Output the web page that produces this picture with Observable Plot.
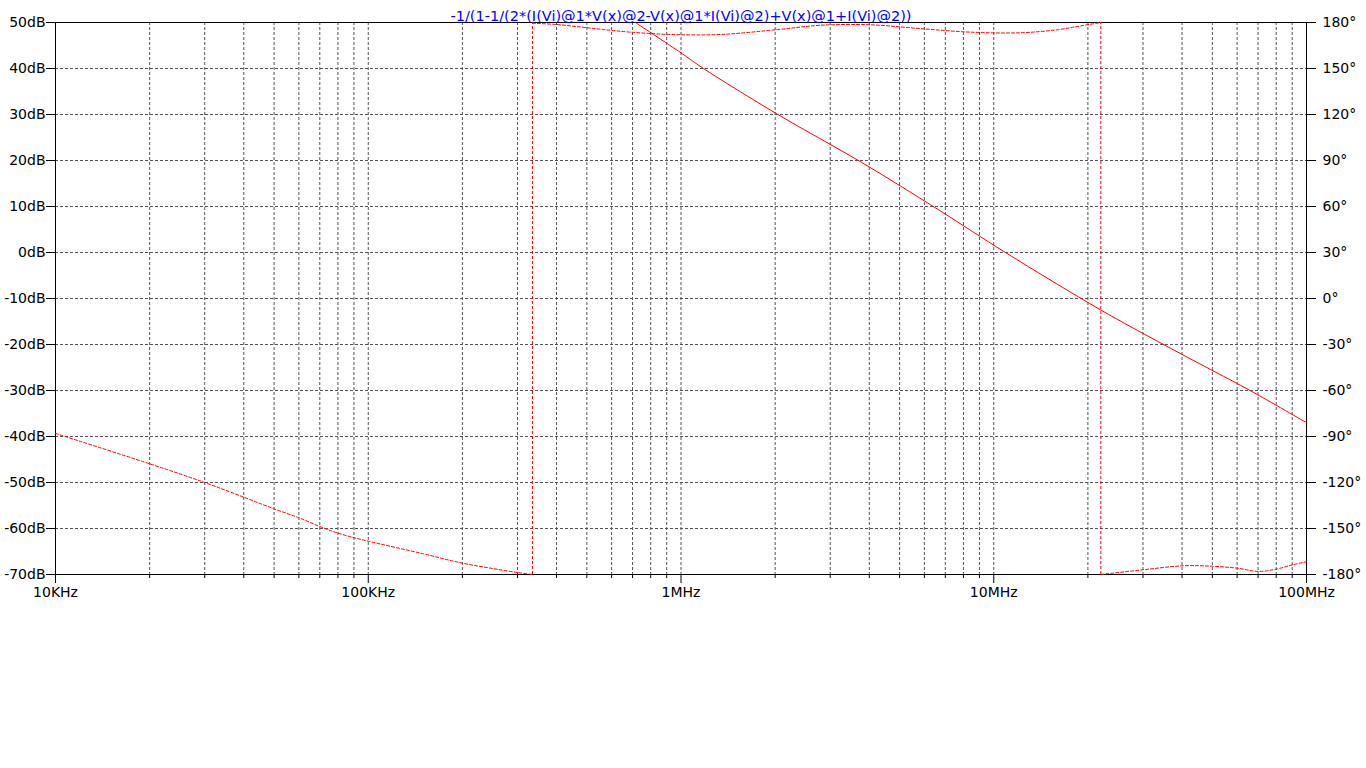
<!DOCTYPE html>
<html>
<head>
<meta charset="utf-8">
<script src="https://cdn.jsdelivr.net/npm/d3@7"></script>
<script src="https://cdn.jsdelivr.net/npm/@observablehq/plot@0.6"></script>
<style>
  html, body { margin: 0; padding: 0; background: #ffffff; }
  #chart svg { display: block; }
</style>
</head>
<body>
<div id="chart"></div>
<script>
// ---- Data ----
const titleText = "-1/(1-1/(2*(I(Vi)@1*V(x)@2-V(x)@1*I(Vi)@2)+V(x)@1+I(Vi)@2))";

// x axis (frequency, Hz)
const majorFreqs = [1e4, 1e5, 1e6, 1e7, 1e8];
const majorLabels = ["10KHz", "100KHz", "1MHz", "10MHz", "100MHz"];
const minorFreqs = [
  2e4, 3e4, 4e4, 5e4, 6e4, 7e4, 8e4, 9e4,
  2e5, 3e5, 4e5, 5e5, 6e5, 7e5, 8e5, 9e5,
  2e6, 3e6, 4e6, 5e6, 6e6, 7e6, 8e6, 9e6,
  2e7, 3e7, 4e7, 5e7, 6e7, 7e7, 8e7, 9e7
];

// left axis (dB) and right axis (degrees) share positions
const dbTicks = [-70, -60, -50, -40, -30, -20, -10, 0, 10, 20, 30, 40, 50];
const dbLabels = ["-70dB", "-60dB", "-50dB", "-40dB", "-30dB", "-20dB", "-10dB", "0dB", "10dB", "20dB", "30dB", "40dB", "50dB"];
const degLabels = ["-180°", "-150°", "-120°", "-90°", "-60°", "-30°", "0°", "30°", "60°", "90°", "120°", "150°", "180°"];

// magnitude (solid)
const magFreq = [7.15e5, 1e6, 1.18e6, 2.04e6, 3.8e6, 6.76e6, 1.09e7, 2.2e7, 3.34e7, 4.5e7, 6.6e7, 1e8];
const magDb   = [50, 43.4, 40, 30, 19.5, 9, 0, -12.5, -19.3, -24, -30, -37];

// phase (dashed), degrees, three wrapped segments
const ph1Freq = [1e4, 2e4, 3e4, 4e4, 5e4, 6e4, 7e4, 8e4, 9e4, 1e5, 1.5e5, 2e5, 2.5e5, 3e5, 3.35e5];
const ph1Deg  = [-88, -107.8, -120, -129.6, -137.2, -143, -148.7, -153, -156, -158.3, -166.5, -172.6, -176.1, -178.7, -180];
const ph2Freq = [3.35e5, 4e5, 4.8e5, 5.6e5, 6.9e5, 9.25e5, 1.34e6, 2.04e6, 2.79e6, 4.03e6, 5.83e6, 8.44e6, 1.22e7, 1.6e7, 1.9e7, 2.2e7];
const ph2Deg  = [179.5, 178.7, 177, 175.5, 173.7, 172.2, 172.2, 175.4, 178.2, 178.5, 176, 173.7, 173.3, 175.3, 177.8, 180];
const ph3Freq = [2.2e7, 3.01e7, 4.05e7, 5.01e7, 6.02e7, 7.03e7, 8.08e7, 9.02e7, 1e8];
const ph3Deg  = [-180, -176.9, -174.3, -174.6, -175.9, -178, -176.3, -173.7, -171.7];
const wrapFreqs = [3.35e5, 2.2e7];

// ---- Build tables ----
const magData = magFreq.map((f, i) => ({f, v: magDb[i]}));
const phaseData = [
  ...ph1Freq.map((f, i) => ({f, deg: ph1Deg[i], seg: 1})),
  ...ph2Freq.map((f, i) => ({f, deg: ph2Deg[i], seg: 2})),
  ...ph3Freq.map((f, i) => ({f, deg: ph3Deg[i], seg: 3}))
];
const degToDb = d => d / 3 - 10; // maps -180..180° onto -70..50 dB frame

const xLabelMap = new Map(majorFreqs.map((f, i) => [f, majorLabels[i]]));
const dbLabelMap = new Map(dbTicks.map((d, i) => [d, dbLabels[i]]));
const degLabelMap = new Map(dbTicks.map((d, i) => [d, degLabels[i]]));

const gridStyle = {stroke: "#55505a", strokeDasharray: "3,2", strokeWidth: 1, strokeOpacity: 1};
const red = "#ff0000";

const chart = Plot.plot({
  width: 1366,
  height: 768,
  marginTop: 22,
  marginLeft: 55,
  marginRight: 60,
  marginBottom: 194,
  x: {type: "log", domain: [1e4, 1e8], label: null},
  y: {domain: [-70, 50], label: null},
  style: {fontFamily: "DejaVu Sans", fontSize: "14px", color: "#000", background: "#fff"},
  marks: [
    Plot.ruleX(minorFreqs.concat([1e5, 1e6, 1e7]), gridStyle),
    Plot.ruleY(dbTicks.slice(1, -1), gridStyle),
    Plot.axisX(majorFreqs, {anchor: "bottom", tickSize: 9, tickPadding: 4, label: null, tickFormat: d => xLabelMap.get(d), fontSize: 14}),
    Plot.axisX(minorFreqs, {anchor: "bottom", tickSize: 4, label: null, tickFormat: () => ""}),
    Plot.axisY(dbTicks, {anchor: "left", tickSize: 9, tickPadding: 1, label: null, tickFormat: d => dbLabelMap.get(d), fontSize: 14}),
    Plot.axisY(dbTicks, {anchor: "right", tickSize: 9, tickPadding: 7, label: null, tickFormat: d => degLabelMap.get(d), fontSize: 14}),
    Plot.frame({stroke: "#000"}),
    Plot.ruleX(wrapFreqs, {y1: -70, y2: 50, stroke: red, strokeDasharray: "3,2"}),
    Plot.line(phaseData, {x: "f", y: d => degToDb(d.deg), z: "seg", stroke: red, strokeWidth: 1, strokeDasharray: "3,2", curve: "catmull-rom"}),
    Plot.line(magData, {x: "f", y: "v", stroke: red, strokeWidth: 1, curve: "catmull-rom"}),
    Plot.text([titleText], {frameAnchor: "top", dy: -12, fill: "#0000ff", fontSize: 14.5})
  ]
});
document.getElementById("chart").append(chart);
</script>
</body>
</html>
